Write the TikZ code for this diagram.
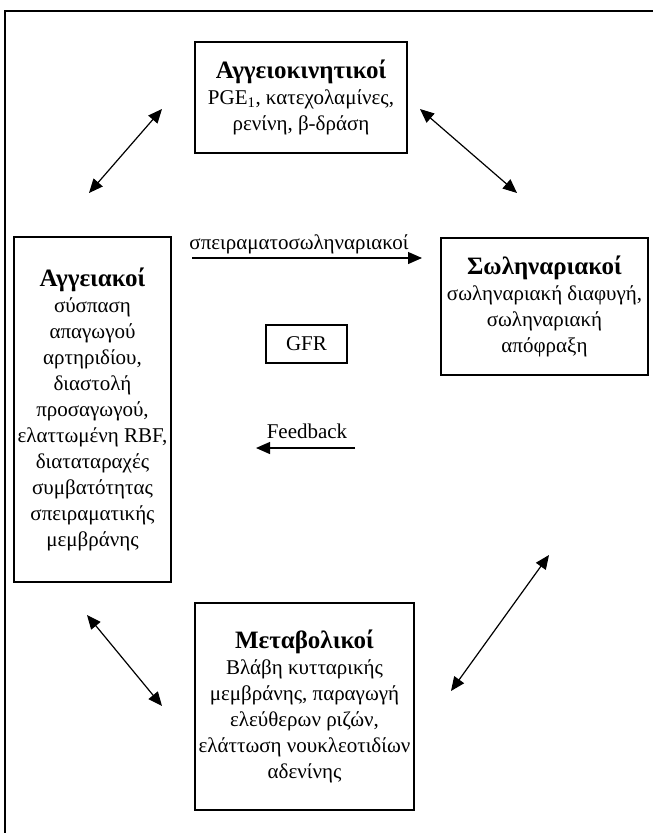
\documentclass[tikz,border=0pt]{standalone}
\usepackage{fontspec}
\setmainfont{Liberation Serif}
\usetikzlibrary{arrows.meta}
\begin{document}
\begin{tikzpicture}[x=1pt,y=-1pt,
  box/.style={draw,line width=1.5pt,align=center,inner sep=0pt,
    font=\fontsize{21}{26}\selectfont},
  arr/.style={line width=1.2pt,-{Triangle[length=14pt,width=12pt]}},
  darr/.style={line width=1.2pt,{Triangle[length=14pt,width=12pt]}-{Triangle[length=14pt,width=12pt]}},
  lbl/.style={font=\fontsize{21}{26}\selectfont,inner sep=0pt}]
\useasboundingbox (0,0) rectangle (653,833);
\draw[line width=1.4pt] (5,833) -- (5,11) -- (653,11);

\node[box,minimum width=212pt,minimum height=111pt] (top) at (301,97.5)
  {{\fontsize{25}{28}\bfseries\selectfont Αγγειοκινητικοί}\\PGE\textsubscript{1}, κατεχολαμίνες,\\ρενίνη, β-δράση};

\node[box,minimum width=157pt,minimum height=345pt] (left) at (92.5,409.5)
  {{\fontsize{25}{28}\bfseries\selectfont Αγγειακοί}\\σύσπαση\\απαγωγού\\αρτηριδίου,\\διαστολή\\προσαγωγού,\\ελαττωμένη RBF,\\διαταταραχές\\συμβατότητας\\σπειραματικής\\μεμβράνης};

\node[box,minimum width=207pt,minimum height=137pt] (right) at (544.5,306.5)
  {{\fontsize{25}{28}\bfseries\selectfont Σωληναριακοί}\\σωληναριακή διαφυγή,\\σωληναριακή\\απόφραξη};

\node[box,line width=1.2pt,minimum width=81pt,minimum height=38pt] (gfr) at (306.5,344) {GFR};

\node[box,minimum width=219pt,minimum height=207pt] (bot) at (304.5,706.5)
  {{\fontsize{25}{28}\bfseries\selectfont Μεταβολικοί}\\Βλάβη κυτταρικής\\μεμβράνης, παραγωγή\\ελεύθερων ριζών,\\ελάττωση νουκλεοτιδίων\\αδενίνης};

\coordinate (tl1) at (89,193);  \coordinate (tl2) at (162,109);
\coordinate (tr1) at (420,109); \coordinate (tr2) at (517,193);
\coordinate (h1) at (192,258);  \coordinate (h2) at (422,258);
\coordinate (f1) at (355,448);  \coordinate (f2) at (256,448);
\coordinate (bl1) at (87,615);  \coordinate (bl2) at (162,706);
\coordinate (br1) at (549,555); \coordinate (br2) at (451,691);

\draw[darr] (tl1) -- (tl2);
\draw[darr] (tr1) -- (tr2);
\draw[arr] (h1) -- (h2);
\draw[arr] (f1) -- (f2);
\draw[darr] (bl1) -- (bl2);
\draw[darr] (br1) -- (br2);

\node[lbl] (hl) at (299,244) {σπειραματοσωληναριακοί};
\node[lbl] (fl) at (307,431) {Feedback};
\end{tikzpicture}
\end{document}
